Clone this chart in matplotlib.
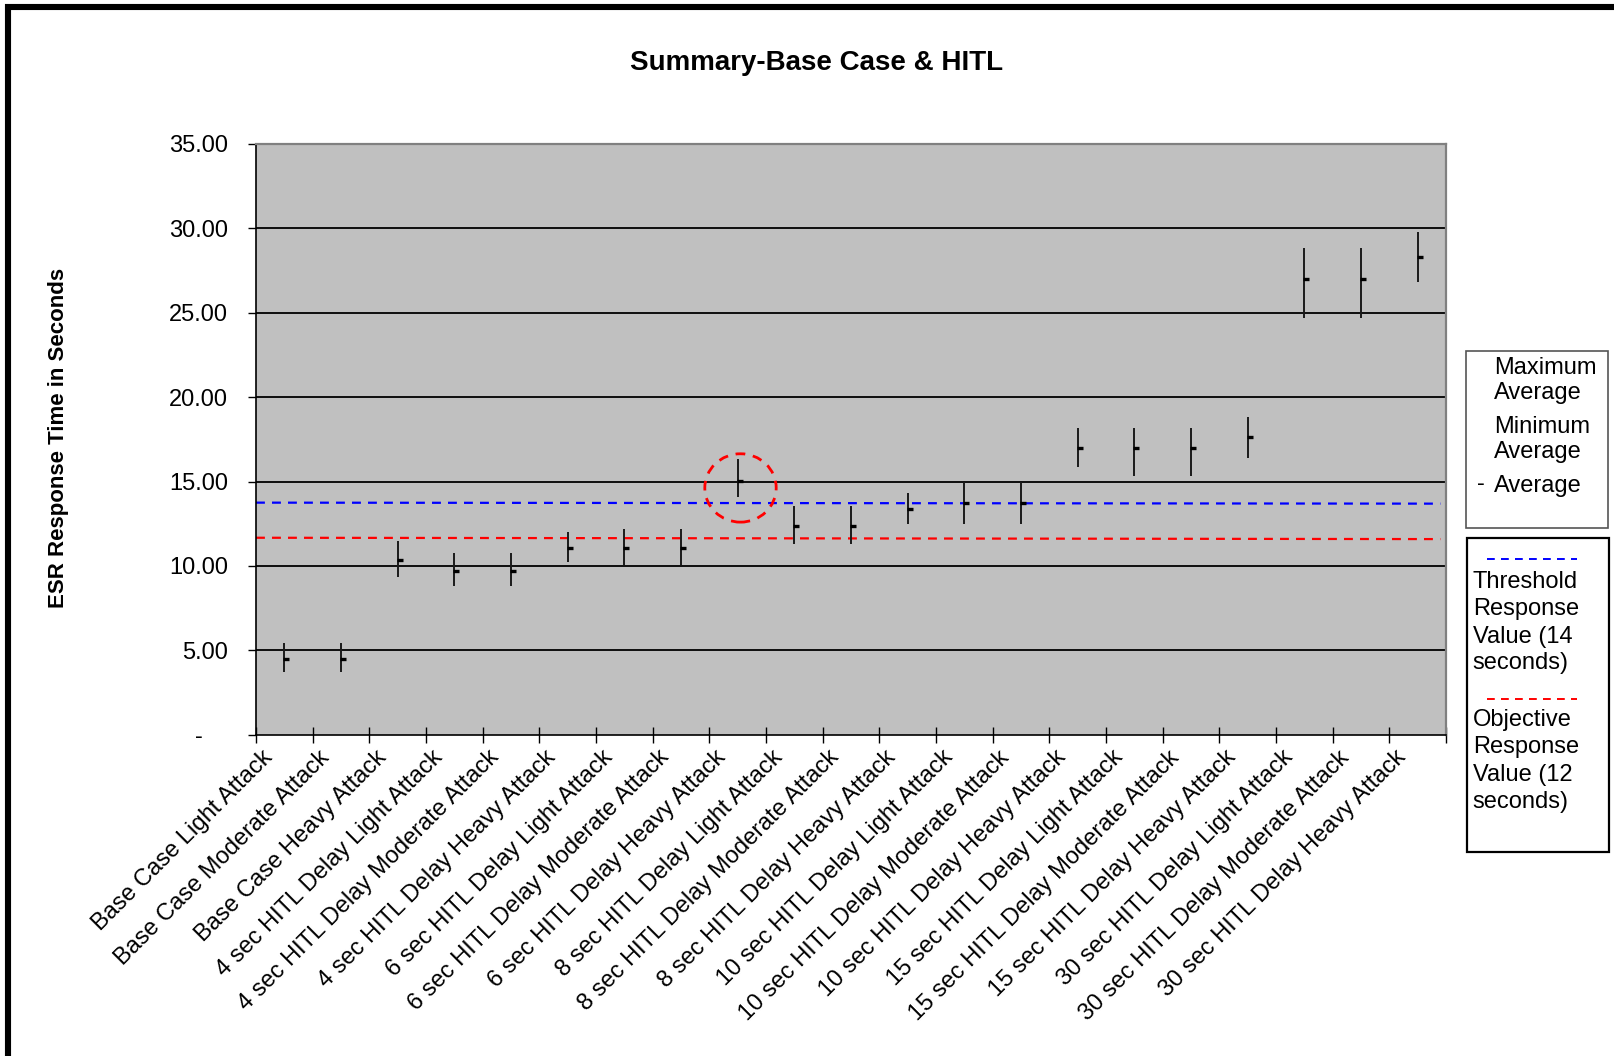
import matplotlib
matplotlib.use("Agg")
import matplotlib.pyplot as plt
from matplotlib.patches import Rectangle, Ellipse
from matplotlib.lines import Line2D
from matplotlib.transforms import ScaledTranslation
import numpy as np

plt.rcParams['font.family'] = ['Liberation Sans', 'DejaVu Sans']

categories = [
    "Base Case Light Attack", "Base Case Moderate Attack", "Base Case Heavy Attack",
    "4 sec HITL Delay Light Attack", "4 sec HITL Delay Moderate Attack", "4 sec HITL Delay Heavy Attack",
    "6 sec HITL Delay Light Attack", "6 sec HITL Delay Moderate Attack", "6 sec HITL Delay Heavy Attack",
    "8 sec HITL Delay Light Attack", "8 sec HITL Delay Moderate Attack", "8 sec HITL Delay Heavy Attack",
    "10 sec HITL Delay Light Attack", "10 sec HITL Delay Moderate Attack", "10 sec HITL Delay Heavy Attack",
    "15 sec HITL Delay Light Attack", "15 sec HITL Delay Moderate Attack", "15 sec HITL Delay Heavy Attack",
    "30 sec HITL Delay Light Attack", "30 sec HITL Delay Moderate Attack", "30 sec HITL Delay Heavy Attack",
]
max_avg = [5.41, 5.41, 11.49, 10.76, 10.76, 12.01, 12.17, 12.17, 16.33, 13.55, 13.55, 14.32,
           15.0, 15.0, 18.15, 18.15, 18.15, 18.82, 28.81, 28.81, 29.80]
min_avg = [3.73, 3.73, 9.36, 8.81, 8.81, 10.25, 10.04, 10.04, 14.06, 11.28, 11.28, 12.50,
           12.50, 12.50, 15.88, 15.33, 15.33, 16.41, 24.67, 24.67, 26.84]
average = [4.47, 4.47, 10.33, 9.72, 9.72, 11.06, 11.04, 11.04, 15.03, 12.36, 12.36, 13.39,
           13.71, 13.71, 16.99, 17.00, 17.00, 17.65, 26.98, 26.98, 28.32]
threshold_ends = [13.75, 13.69]   # left / right end of the drawn threshold line
objective_ends = [11.67, 11.59]   # left / right end of the drawn objective line
circled_index = 8
circle_center_y = 14.62
y_ticks = [0, 5, 10, 15, 20, 25, 30, 35]
y_tick_labels = ["-", "5.00", "10.00", "15.00", "20.00", "25.00", "30.00", "35.00"]

W, H = 1615, 1056
fig = plt.figure(figsize=(W / 100, H / 100), dpi=100)

def fx(px):
    return px / W

def fy(py):
    return 1 - py / H

ax = fig.add_axes([fx(256), fy(734.7), fx(1446) - fx(256), fy(144) - fy(734.7)])
ax.set_facecolor('#C0C0C0')
n = len(categories)
x = np.arange(n)
ax.set_xlim(-0.5, n - 0.5)
ax.set_ylim(0, 35)

for yv in y_ticks[1:-1]:
    ax.axhline(yv, color='black', lw=1.3, zorder=1)

ax.vlines(x, min_avg, max_avg, color='#1a1a1a', lw=1.4, zorder=3)
ax.plot(x, average, linestyle='none', marker='_', color='black', markersize=4.5, mew=2.4, zorder=4,
        transform=ax.transData + ScaledTranslation(0.02, 0, fig.dpi_scale_trans))

ax.plot([-0.5, n - 0.6], threshold_ends, color='#0000FF', lw=1.6, dashes=(4, 3.2), zorder=2)
ax.plot([-0.5, n - 0.6], objective_ends, color='#FF0000', lw=1.6, dashes=(4, 3.2), zorder=2)

ell = Ellipse((circled_index + 0.05, circle_center_y), width=1.26, height=4.05, fill=False,
              edgecolor='#FF0000', lw=2.0, linestyle=(0, (3.5, 2.8)), zorder=5)
ax.add_patch(ell)

# axes spines
for s in ['top', 'right']:
    ax.spines[s].set_color('#808080')
    ax.spines[s].set_linewidth(1.6)
ax.spines['left'].set_color('black')
ax.spines['left'].set_linewidth(1.2)
ax.spines['bottom'].set_color('black')
ax.spines['bottom'].set_linewidth(1.2)

ax.set_yticks(y_ticks)
ax.set_yticklabels(y_tick_labels, fontsize=17)
ax.tick_params(axis='y', direction='out', length=6, width=1, pad=14)
for lbl in ax.get_yticklabels():
    if lbl.get_text() == "-":
        lbl.set_transform(lbl.get_transform() + ScaledTranslation(-0.25, 0, fig.dpi_scale_trans))

ax.set_xticks(x)
ax.set_xticklabels(categories, fontsize=17, rotation=45, ha='right', va='center',
                   rotation_mode='anchor')
ax.tick_params(axis='x', which='major', length=0, pad=14)
ax.set_xticks(np.arange(-0.5, n - 0.4, 1.0), minor=True)
ax.tick_params(axis='x', which='minor', direction='inout', length=12, width=1)
for lbl in ax.get_xticklabels():
    lbl.set_transform(lbl.get_transform() + ScaledTranslation(-0.15, 0, fig.dpi_scale_trans))

fig.text(fx(817), fy(63), "Summary-Base Case & HITL", fontsize=20, fontweight='bold',
         ha='center', va='center')
fig.text(fx(59), fy(438), "ESR Response Time in Seconds", fontsize=16, fontweight='bold',
         rotation=90, ha='center', va='center')

# legend 1
fig.patches.append(Rectangle((fx(1466), fy(527.7)), fx(1607.7) - fx(1466), fy(350.7) - fy(527.7),
                             transform=fig.transFigure, fill=True, facecolor='white',
                             edgecolor='#555555', lw=1.2))
for txt, py in [("Maximum", 367.7), ("Average", 393), ("Minimum", 426.7), ("Average", 451.7),
                ("Average", 485.7)]:
    fig.text(fx(1494), fy(py), txt, fontsize=17, ha='left', va='center')
fig.text(fx(1481), fy(484), "-", fontsize=17, ha='center', va='center')

# legend 2
fig.patches.append(Rectangle((fx(1466.7), fy(852)), fx(1609) - fx(1466.7), fy(538.3) - fy(852),
                             transform=fig.transFigure, fill=True, facecolor='white',
                             edgecolor='black', lw=1.6))
fig.lines.append(Line2D([fx(1487), fx(1577)], [fy(559.3), fy(559.3)], transform=fig.transFigure,
                        color='#0000FF', lw=1.4, dashes=(4, 3.2)))
fig.lines.append(Line2D([fx(1487), fx(1577)], [fy(699), fy(699)], transform=fig.transFigure,
                        color='#FF0000', lw=1.4, dashes=(4, 3.2)))
for txt, py in [("Threshold", 581.7), ("Response", 609.3), ("Value (14", 636.5), ("seconds)", 663),
                ("Objective", 720), ("Response", 747.5), ("Value (12", 775), ("seconds)", 801.7)]:
    fig.text(fx(1472.7), fy(py), txt, fontsize=17, ha='left', va='center')

# outer frame (left & top visible)
fig.patches.append(Rectangle((fx(8), fy(1300)), fx(2000), fy(7) - fy(1300),
                             transform=fig.transFigure, fill=False, edgecolor='black', lw=4.4))

fig.savefig("out.png", dpi=100, facecolor='white')
